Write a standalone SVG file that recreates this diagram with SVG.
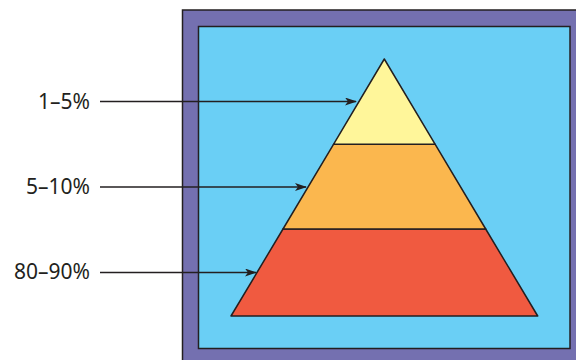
<svg xmlns="http://www.w3.org/2000/svg" width="576" height="360" viewBox="0 0 576 360">
<defs>
<style>
.lbl{font-family:"Noto Sans","Open Sans",sans-serif;font-size:21px;fill:#231f20;text-anchor:end}
.edge{stroke:#231f20;stroke-width:1.3;fill:none}
.tier{stroke:#231f20;stroke-width:1.5;stroke-linejoin:round}
</style>
<marker id="ah" viewBox="0 0 12 8" refX="11" refY="4" markerWidth="12" markerHeight="8" markerUnits="userSpaceOnUse" orient="auto">
<path d="M0,0 L12,4 L0,8 L3,4 Z" fill="#231f20"/>
</marker>
</defs>
<g id="frame">
<rect x="182.5" y="10" width="400" height="360" fill="#7470b0" stroke="#231f20" stroke-width="1.5"/>
<rect x="198.5" y="26.5" width="371.5" height="322" fill="#6acff5" stroke="#231f20" stroke-width="1.5"/>
</g>
<g id="tier-bottom"><polygon class="tier" points="283,229 485.7,229 537.7,316 231,316" fill="#f05a40"/></g>
<g id="tier-middle"><polygon class="tier" points="333.5,144.3 435.2,144.3 485.7,229 283,229" fill="#fbb74e"/></g>
<g id="tier-top"><polygon class="tier" points="384.3,59 435.2,144.3 333.5,144.3" fill="#fff69a"/></g>
<g id="label-1"><text class="lbl" x="90" y="108.5">1–5%</text></g>
<g id="label-2"><text class="lbl" x="90" y="193.5">5–10%</text></g>
<g id="label-3"><text class="lbl" x="90" y="278.5">80–90%</text></g>
<g id="connectors">
<line class="edge" x1="100" y1="101.5" x2="356" y2="101.5" marker-end="url(#ah)"/>
<line class="edge" x1="100" y1="187" x2="306" y2="187" marker-end="url(#ah)"/>
<line class="edge" x1="100" y1="272.5" x2="256" y2="272.5" marker-end="url(#ah)"/>
</g>
</svg>
